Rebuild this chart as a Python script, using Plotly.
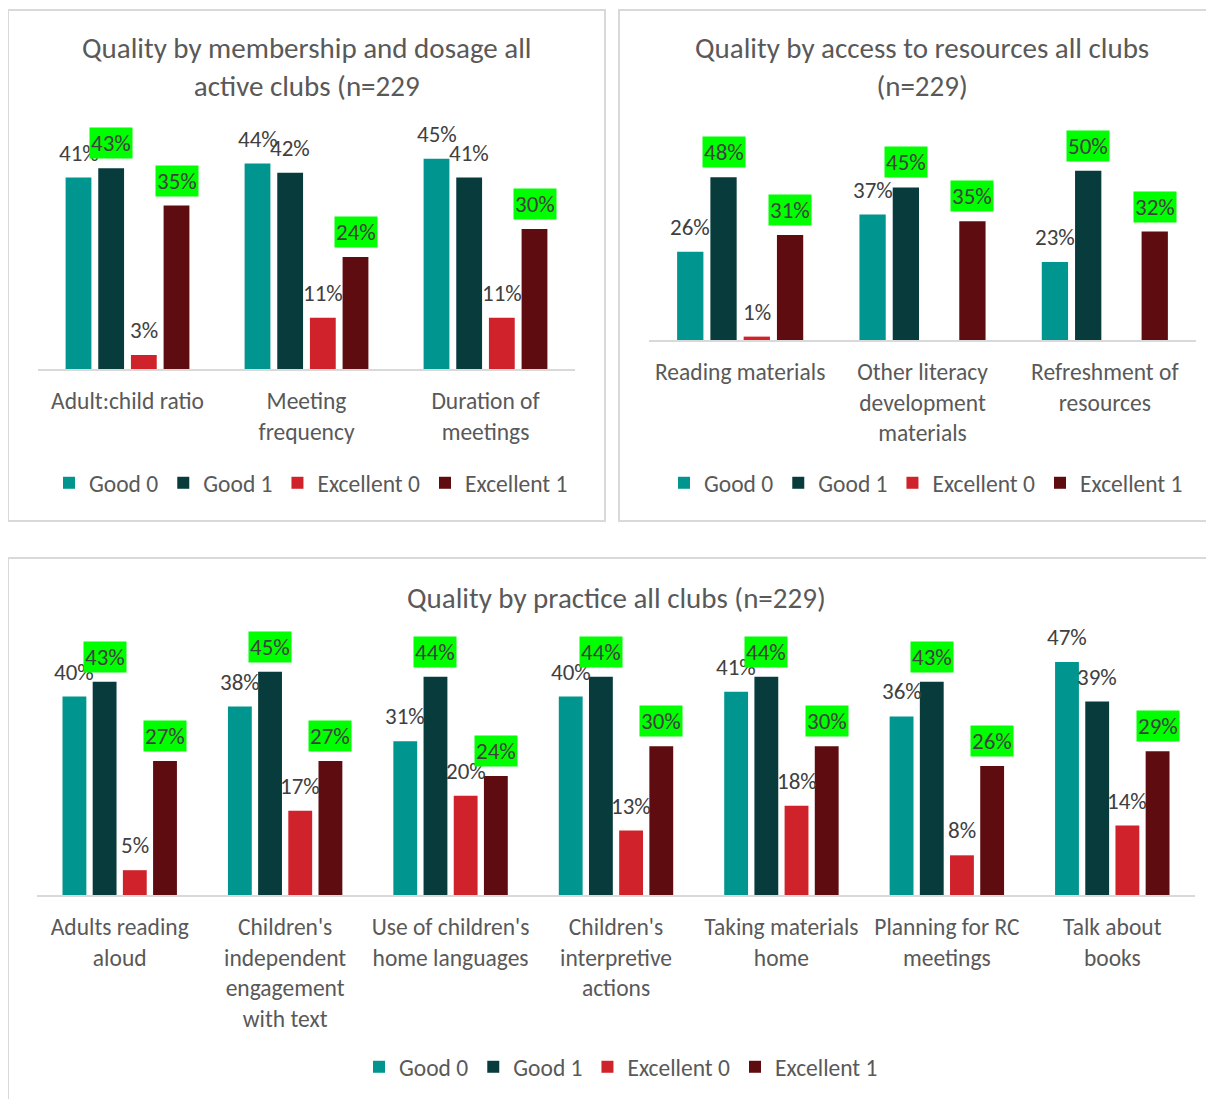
import plotly.graph_objects as go

OFF = 8  # default page body margin of the html page
W, H = 1214 - OFF, 1099 - OFF
FONT = "Carlito, Lato, 'Open Sans', sans-serif"
TXT = "#595959"
LBL = "#404040"
GRID = "#D9D9D9"

series_names = ["Good 0", "Good 1", "Excellent 0", "Excellent 1"]
series_colors = ["#00958F", "#083C3C", "#D0222B", "#5F0C10"]

# ---- Panel 1: membership and dosage
tl_title = "Quality by membership and dosage all<br>active clubs (n=229"
tl_categories = ["Adult:child ratio", "Meeting<br>frequency", "Duration of<br>meetings"]
tl_good0 = [41, 44, 45]
tl_good1 = [43, 42, 41]
tl_exc0 = [3, 11, 11]
tl_exc1 = [35, 24, 30]

# ---- Panel 2: access to resources
tr_title = "Quality by access to resources all clubs<br>(n=229)"
tr_categories = ["Reading materials", "Other literacy<br>development<br>materials",
                 "Refreshment of<br>resources"]
tr_good0 = [26, 37, 23]
tr_good1 = [48, 45, 50]
tr_exc0 = [1, None, None]
tr_exc1 = [31, 35, 32]

# ---- Panel 3: practice
bt_title = "Quality by practice all clubs (n=229)"
bt_categories = ["Adults reading<br>aloud", "Children's<br>independent<br>engagement<br>with text",
                 "Use of children's<br>home languages", "Children's<br>interpretive<br>actions",
                 "Taking materials<br>home", "Planning for RC<br>meetings", "Talk about<br>books"]
bt_good0 = [40, 38, 31, 40, 41, 36, 47]
bt_good1 = [43, 45, 44, 44, 44, 43, 39]
bt_exc0 = [5, 17, 20, 13, 18, 8, 14]
bt_exc1 = [27, 27, 24, 30, 30, 26, 29]

BARGAP = 0.27
BARGROUPGAP = 0.21


def fx(px):
    return (px - OFF) / W


def fy(py):
    return 1 - (py - OFF) / H


panels = [
    dict(ax="", title=tl_title, cats=tl_categories,
         data=[tl_good0, tl_good1, tl_exc0, tl_exc1],
         xdom=(38, 575), ydom=(135.5, 369), title_xy=(306, 67),
         legend="legend", leg_xy=(311, 483), box=(8, 10, 605, 521)),
    dict(ax="2", title=tr_title, cats=tr_categories,
         data=[tr_good0, tr_good1, tr_exc0, tr_exc1],
         xdom=(649, 1196), ydom=(170.5, 340), title_xy=(922, 67),
         legend="legend2", leg_xy=(926, 483), box=(619, 10, 1230, 521)),
    dict(ax="3", title=bt_title, cats=bt_categories,
         data=[bt_good0, bt_good1, bt_exc0, bt_exc1],
         xdom=(37, 1195), ydom=(647, 895), title_xy=(616, 598),
         legend="legend3", leg_xy=(621, 1067), box=(8, 558, 1230, 1120)),
]

fig = go.Figure()
annotations = []
shapes = []
layout_extra = {}

slot = (1 - BARGAP) / 4

for p in panels:
    ax = p["ax"]
    xa = "x" + ax
    ya = "y" + ax
    for j, (name, color) in enumerate(zip(series_names, series_colors)):
        fig.add_trace(go.Bar(
            x=p["cats"], y=p["data"][j], name=name,
            marker=dict(color=color, line=dict(width=0)),
            xaxis=xa, yaxis=ya, legend=p["legend"], hoverinfo="skip",
        ))
    # data labels
    g0, g1, e0, e1 = p["data"]
    for j, vals in enumerate(p["data"]):
        for i, v in enumerate(vals):
            if v is None:
                continue
            hl = False
            if j == 1 and v > (g0[i] or 0):
                hl = True
            if j == 3 and v > (e0[i] or 0):
                hl = True
            annotations.append(dict(
                x=i + (j - 1.5) * slot, y=v, xref=xa, yref=ya,
                text=f"{v}%", showarrow=False, yanchor="middle", yshift=25,
                font=dict(family=FONT, size=23, color=LBL),
                bgcolor="#00FF00" if hl else "rgba(0,0,0,0)", borderpad=1,
            ))
    # title
    annotations.append(dict(
        x=fx(p["title_xy"][0]), y=fy(p["title_xy"][1]), xref="paper", yref="paper",
        text=p["title"], showarrow=False, xanchor="center", yanchor="middle",
        font=dict(family=FONT, size=29, color=TXT),
    ))
    # border
    x0, y0, x1, y1 = p["box"]
    shapes.append(dict(type="rect", xref="paper", yref="paper",
                       x0=fx(x0), x1=fx(x1), y0=fy(y1), y1=fy(y0),
                       line=dict(color=GRID, width=2), fillcolor="rgba(0,0,0,0)",
                       layer="below"))
    layout_extra["xaxis" + ax] = dict(
        domain=[fx(p["xdom"][0]), fx(p["xdom"][1])], anchor=ya,
        showline=True, linecolor=GRID, linewidth=2, showgrid=False, zeroline=False,
        ticks="", tickfont=dict(family=FONT, size=23.5, color=TXT),
        ticklabelstandoff=10, fixedrange=True,
    )
    layout_extra["yaxis" + ax] = dict(
        domain=[fy(p["ydom"][1]), fy(p["ydom"][0])], anchor=xa,
        range=[0, 50], visible=False, showgrid=False, zeroline=False, fixedrange=True,
    )
    layout_extra[p["legend"]] = dict(
        orientation="h", x=fx(p["leg_xy"][0]), y=fy(p["leg_xy"][1]),
        xanchor="center", yanchor="middle", bgcolor="rgba(0,0,0,0)",
        font=dict(family=FONT, size=23.5, color=TXT), itemclick=False,
        itemdoubleclick=False, traceorder="normal", itemwidth=30,
    )

fig.update_layout(
    width=W, height=H, margin=dict(l=0, r=0, t=0, b=0),
    paper_bgcolor="white", plot_bgcolor="white",
    barmode="group", bargap=BARGAP, bargroupgap=BARGROUPGAP,
    annotations=annotations, shapes=shapes,
    font=dict(family=FONT, color=TXT),
    **layout_extra,
)

fig.write_html("out.html")
